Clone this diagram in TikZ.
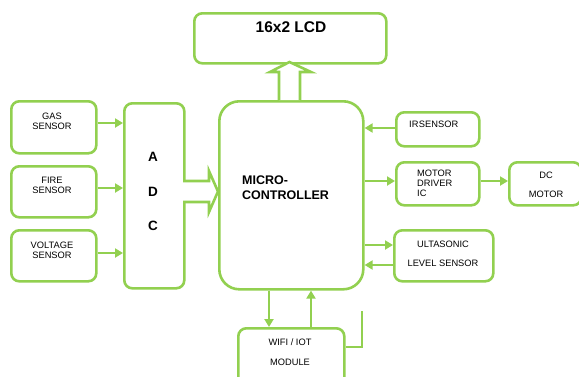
\documentclass[tikz,border=0pt]{standalone}
\usepackage{fontspec}
\setmainfont{Liberation Sans}
\usetikzlibrary{arrows.meta}
\definecolor{lg}{RGB}{146,208,80}
\begin{document}
\begin{tikzpicture}[x=1pt,y=-1pt,
  blk/.style={draw=lg,line width=2.6pt,rounded corners=8pt,fill=white},
  conn/.style={draw=lg,line width=2.6pt,-{Triangle[length=8pt,width=9pt]}},
  wire/.style={draw=lg,line width=2.6pt},
  hollow/.style={draw=lg,line width=2.6pt,fill=white,line join=miter},
  sm/.style={font=\fontsize{9.3}{10}\selectfont,align=center,inner sep=0pt},
  bd/.style={font=\bfseries,inner sep=0pt}]
\useasboundingbox (0,0) rectangle (579,376);
% boxes
\node[blk,minimum width=192pt,minimum height=50pt,anchor=north west] (lcd) at (193,12) {};
\node[bd,font=\fontsize{15.5}{17}\selectfont\bfseries] (lcdt) at (291,27) {16x2 LCD};
\node[blk,rounded corners=20pt,minimum width=144pt,minimum height=188pt,anchor=north west] (mc) at (218,100) {};
\node[bd,font=\fontsize{12.5}{15}\selectfont\bfseries,align=left,anchor=west] (mct) at (242,188) {MICRO-\\CONTROLLER};
\node[blk,minimum width=60pt,minimum height=185pt,anchor=north west] (adc) at (123,102) {};
\node[bd,font=\fontsize{13.5}{15}\selectfont\bfseries] (a1) at (153,157) {A};
\node[bd,font=\fontsize{13.5}{15}\selectfont\bfseries] (a2) at (153,192) {D};
\node[bd,font=\fontsize{13.5}{15}\selectfont\bfseries] (a3) at (153,226) {C};
\node[blk,minimum width=85pt,minimum height=52pt,anchor=north west] (gas) at (10,100) {};
\node[sm] (gast) at (52,121) {GAS\\SENSOR};
\node[blk,minimum width=85pt,minimum height=51pt,anchor=north west] (fire) at (10,165) {};
\node[sm] (firet) at (52,185) {FIRE\\SENSOR};
\node[blk,minimum width=85pt,minimum height=51pt,anchor=north west] (volt) at (10,229) {};
\node[sm] (voltt) at (52,250) {VOLTAGE\\SENSOR};
\node[blk,minimum width=83pt,minimum height=34pt,anchor=north west] (ir) at (395,111) {};
\node[sm,anchor=west] (irt) at (409,124) {IR\hspace{0.5pt}SENSOR};
\node[blk,minimum width=83pt,minimum height=43pt,anchor=north west] (md) at (395,161) {};
\node[sm,align=left,anchor=west] (mdt) at (417,183) {MOTOR\\DRIVER\\IC};
\node[blk,minimum width=72pt,minimum height=43pt,anchor=north west] (dc) at (508,161) {};
\node[sm] (dct1) at (546,175) {DC};
\node[sm] (dct2) at (546,194) {MOTOR};
\node[blk,minimum width=99pt,minimum height=51pt,anchor=north west] (us) at (393,229) {};
\node[sm] (ust1) at (443,244) {ULTASONIC};
\node[sm] (ust2) at (443,263) {LEVEL SENSOR};
\node[blk,minimum width=106pt,minimum height=60pt,anchor=north west] (wifi) at (237,327) {};
\node[sm] (wt1) at (290,342) {WIFI / IOT};
\node[sm] (wt2) at (290,362) {MODULE};
% arrows
\draw[conn] (gas.east |- 0,123) -- (adc.west |- 0,123);
\draw[conn] (fire.east |- 0,188) -- (adc.west |- 0,188);
\draw[conn] (volt.east |- 0,253) -- (adc.west |- 0,253);
\draw[conn] (ir.west |- 0,128) -- (mc.east |- 0,128);
\draw[conn] (mc.east |- 0,181) -- (md.west |- 0,181);
\draw[conn] (md.east |- 0,181) -- (dc.west |- 0,181);
\draw[conn] (mc.east |- 0,245) -- (us.west |- 0,245);
\draw[conn] (us.west |- 0,265) -- (mc.east |- 0,265);
\draw[conn] (269,0 |- mc.south) -- (269,0 |- wifi.north);
\draw[conn] (311,0 |- wifi.north) -- (311,0 |- mc.south);
\coordinate (wend) at (362,311);
\draw[wire] (wifi.east |- 0,347) -| (wend);
% hollow arrows
\draw[hollow] (183,181) -- (209,181) -- (209,171) -- (218,191.5) -- (209,212) -- (209,202) -- (183,202);
\draw[hollow] (279,100) -- (279,72) -- (270,72) -- (289.5,62) -- (311,72) -- (300,72) -- (300,100);
\end{tikzpicture}
\end{document}
